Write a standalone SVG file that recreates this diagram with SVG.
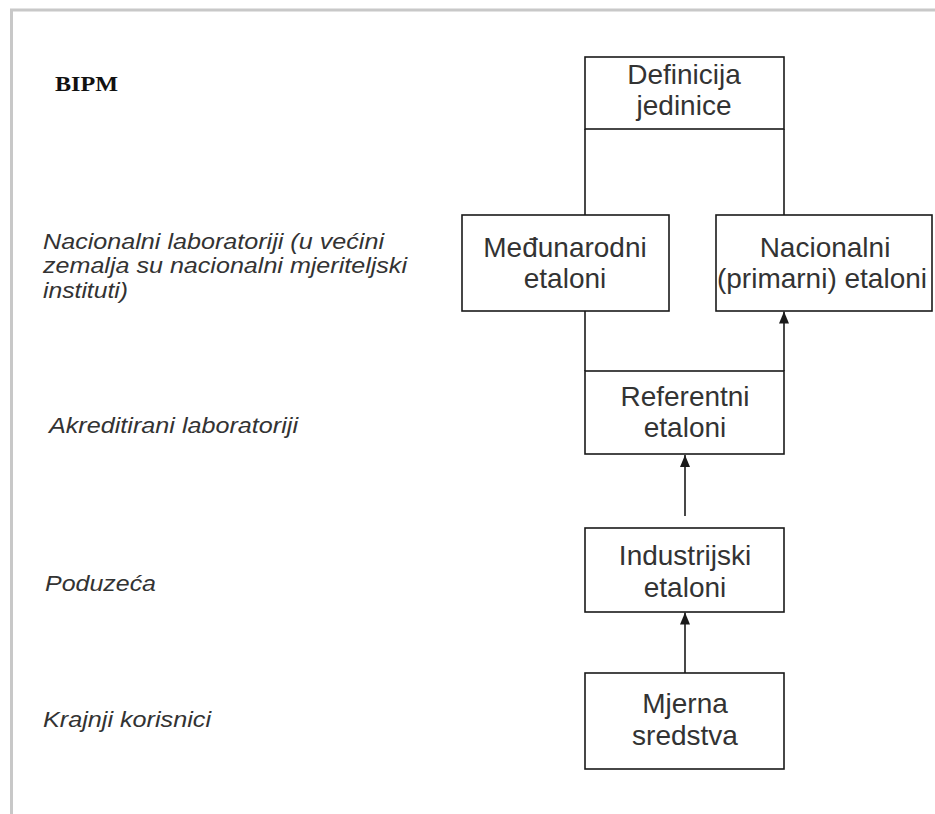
<svg xmlns="http://www.w3.org/2000/svg" width="935" height="814" viewBox="0 0 935 814">
<defs>
<marker id="arr" markerUnits="userSpaceOnUse" markerWidth="12" markerHeight="12" viewBox="0 0 12 12" refX="12" refY="6" orient="auto">
<path d="M0,1 L12,6 L0,11 Z" fill="#1a1a1a"/>
</marker>
<style>
.box{fill:#fff;stroke:#1a1a1a;stroke-width:1.6}
.bt{font-family:"Liberation Sans",Arial,sans-serif;font-size:28px;fill:#333;text-anchor:middle}
.lab{font-family:"Liberation Sans",Arial,sans-serif;font-size:22px;font-style:italic;fill:#333}
.ln{fill:none;stroke:#1a1a1a;stroke-width:1.6}
.border{fill:none;stroke:#c8c8c8;stroke-width:3}
</style>
</defs>
<rect width="935" height="814" fill="#fff"/>
<path class="border" d="M11.5,814 V10 H935"/>

<g id="labels">
<text x="55" y="91" font-family="'Liberation Serif','Times New Roman',serif" font-weight="bold" font-size="21" fill="#111" textLength="63" lengthAdjust="spacingAndGlyphs">BIPM</text>
<text class="lab" x="43" y="249" textLength="341" lengthAdjust="spacingAndGlyphs">Nacionalni laboratoriji (u većini</text>
<text class="lab" x="43" y="273" textLength="364" lengthAdjust="spacingAndGlyphs">zemalja su nacionalni mjeriteljski</text>
<text class="lab" x="43" y="298" textLength="85" lengthAdjust="spacingAndGlyphs">instituti)</text>
<text class="lab" x="49" y="433" textLength="249" lengthAdjust="spacingAndGlyphs">Akreditirani laboratoriji</text>
<text class="lab" x="45" y="591" textLength="111" lengthAdjust="spacingAndGlyphs">Poduzeća</text>
<text class="lab" x="43" y="727" textLength="168" lengthAdjust="spacingAndGlyphs">Krajnji korisnici</text>
</g>

<g id="connectors">
<line class="ln" x1="585" y1="129" x2="585" y2="215"/>
<line class="ln" x1="784" y1="129" x2="784" y2="215"/>
<line class="ln" x1="585" y1="311" x2="585" y2="371"/>
<line class="ln" x1="784" y1="371" x2="784" y2="311.5" marker-end="url(#arr)"/>
<line class="ln" x1="685" y1="516" x2="685" y2="455" marker-end="url(#arr)"/>
<line class="ln" x1="685" y1="673" x2="685" y2="612.5" marker-end="url(#arr)"/>
</g>

<g id="definicija">
<rect class="box" x="585" y="57" width="199" height="72"/>
<text class="bt" x="684" y="84">Definicija</text>
<text class="bt" x="684" y="115">jedinice</text>
</g>

<g id="medjunarodni">
<rect class="box" x="462" y="215" width="207" height="96"/>
<text class="bt" x="565" y="257">Međunarodni</text>
<text class="bt" x="565" y="288">etaloni</text>
</g>

<g id="nacionalni">
<rect class="box" x="716" y="215" width="216" height="96"/>
<text class="bt" x="825" y="257">Nacionalni</text>
<text class="bt" x="822" y="288">(primarni) etaloni</text>
</g>

<g id="referentni">
<rect class="box" x="585" y="371" width="199" height="83"/>
<text class="bt" x="685" y="406">Referentni</text>
<text class="bt" x="685" y="437">etaloni</text>
</g>

<g id="industrijski">
<rect class="box" x="585" y="528" width="199" height="84"/>
<text class="bt" x="685" y="565">Industrijski</text>
<text class="bt" x="685" y="597">etaloni</text>
</g>

<g id="mjerna">
<rect class="box" x="585" y="673" width="199" height="96"/>
<text class="bt" x="685" y="713">Mjerna</text>
<text class="bt" x="685" y="745">sredstva</text>
</g>
</svg>
